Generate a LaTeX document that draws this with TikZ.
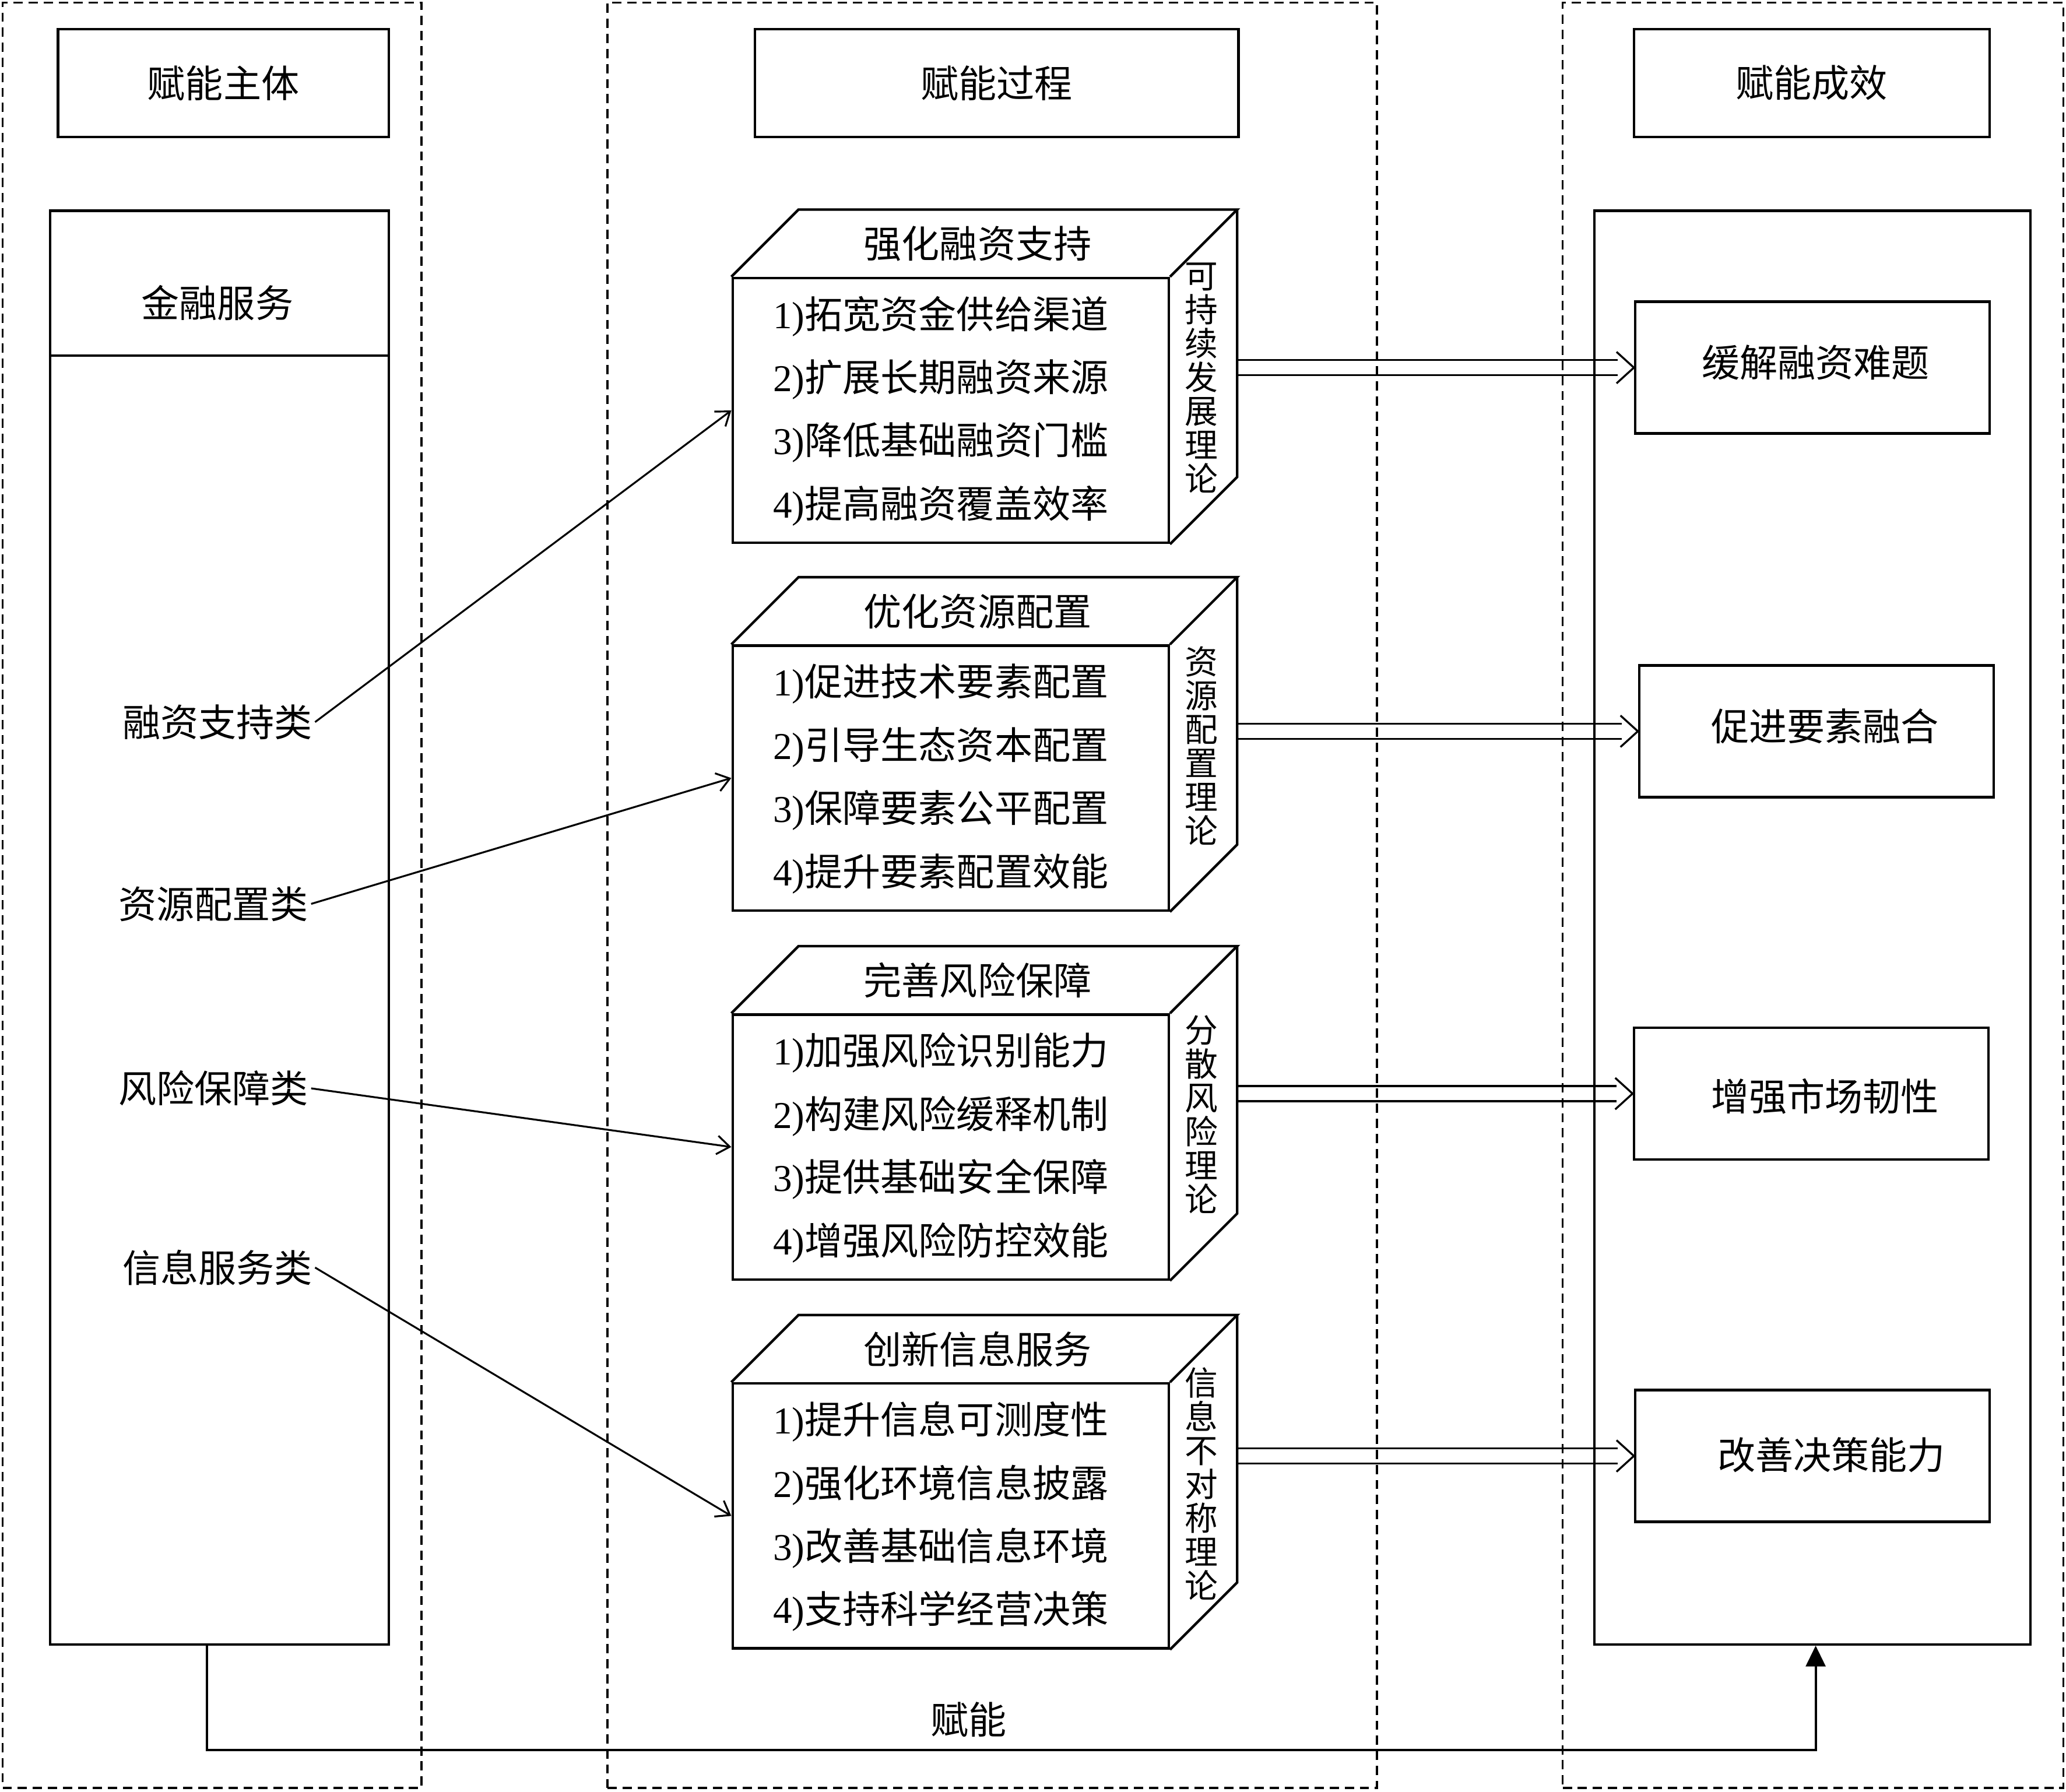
\documentclass[tikz,border=0pt]{standalone}
\usepackage{fontspec}
\setmainfont{Liberation Serif}
\newfontfamily\cjk{Noto Sans CJK SC}
\usetikzlibrary{fit,arrows.meta}
\newcommand\itm[2]{{\rmfamily #1)}#2}
\tikzset{
  col/.style={draw, line width=0.9pt, dash pattern=on 4pt off 2.5pt, inner sep=0pt},
  box/.style={draw, line width=1.1pt, inner sep=0pt},
  edge/.style={line width=1.1pt, line join=miter},
  txt/.style={font=\cjk\fontsize{16.4}{19}\selectfont, inner sep=1pt},
  side/.style={font=\cjk\fontsize{14.3}{14.6}\selectfont, align=center, inner sep=0pt},
  conn/.style={line width=0.8pt, -{Straight Barb[length=5.5pt,width=8pt]}},
  dl/.style={line width=0.85pt},
  base/.style={line width=1pt, -{Triangle[length=9pt,width=8.5pt]}}
}
% double arrow from coordinate #1 to node anchor #2 (horizontal)
\newcommand\dblarrow[2]{%
  \draw[dl] ([yshift=3.3pt]#1) -- ([xshift=-7pt,yshift=3.3pt]#2);
  \draw[dl] ([yshift=-3.3pt]#1) -- ([xshift=-7pt,yshift=-3.3pt]#2);
  \draw[dl, line join=miter] ([xshift=-7.5pt,yshift=6.8pt]#2) -- (#2) -- ([xshift=-7.5pt,yshift=-6.8pt]#2);
}
\newcommand\mkcube[8]{%
  \node[box, fit={(556,#2) (887,#2+201)}] (#1) {};
  \draw[edge] (#1.north west) -- ([shift={(51,-51)}]#1.north west) -- ([shift={(51,-51)}]#1.north east) -- (#1.north east);
  \draw[edge] ([shift={(51,-51)}]#1.north east) -- ([shift={(51,-51)}]#1.south east) -- (#1.south east);
  \coordinate (#1b) at ([shift={(51,-51)}]#1.north east);
  \node[txt] (#1t) at (742,#2-26) {#3};
  \node[side] (#1s) at (912,#2+76) {#4};
  \node[txt] (#1a) at (714,#2+29) {#5};
  \node[txt] (#1c) at (714,#2+77) {#6};
  \node[txt] (#1d) at (714,#2+125) {#7};
  \node[txt] (#1e) at (714,#2+173) {#8};
}
\begin{document}
\begin{tikzpicture}[x=0.02cm, y=-0.02cm]
\useasboundingbox (0,0) rectangle (1568,1360);
% columns
\node[col, fit={(2,2) (320,1357)}] (col1) {};
\node[col, fit={(461,2) (1045,1357)}] (col2) {};
\node[col, fit={(1186,2) (1566,1357)}] (col3) {};
% headers
\node[box, fit={(44,22) (295,104)}] (h1) {};
\node[txt] at (h1) {赋能主体};
\node[box, fit={(573,22) (940,104)}] (h2) {};
\node[txt] at (h2) {赋能过程};
\node[box, fit={(1240,22) (1510,104)}] (h3) {};
\node[txt] at (h3) {赋能成效};
% left big box
\node[box, fit={(38,160) (295,1248)}] (lb) {};
\coordinate (lbsep) at (38,270);
\draw[edge] (lbsep) -- (lbsep -| lb.east);
\node[txt] (fin) at (165,230) {金融服务};
\node[txt] (s1) at (165,548) {融资支持类};
\node[txt] (s2) at (162,686) {资源配置类};
\node[txt] (s3) at (162,826) {风险保障类};
\node[txt] (s4) at (165,962) {信息服务类};
% right big box
\node[box, fit={(1210,160) (1541,1248)}] (rb) {};
\node[box, fit={(1241,229) (1510,329)}] (r1) {};
\node[txt] at (1378,275) {缓解融资难题};
\node[box, fit={(1244,505) (1513,605)}] (r2) {};
\node[txt] at (1385,551) {促进要素融合};
\node[box, fit={(1240,780) (1509,880)}] (r3) {};
\node[txt] at (1385,832) {增强市场韧性};
\node[box, fit={(1241,1055) (1510,1155)}] (r4) {};
\node[txt] at (1390,1104) {改善决策能力};
% cubes
\mkcube{p1}{211}{强化融资支持}{可\\持\\续\\发\\展\\理\\论}{\itm{1}{拓宽资金供给渠道}}{\itm{2}{扩展长期融资来源}}{\itm{3}{降低基础融资门槛}}{\itm{4}{提高融资覆盖效率}}
\mkcube{p2}{490}{优化资源配置}{资\\源\\配\\置\\理\\论}{\itm{1}{促进技术要素配置}}{\itm{2}{引导生态资本配置}}{\itm{3}{保障要素公平配置}}{\itm{4}{提升要素配置效能}}
\mkcube{p3}{770}{完善风险保障}{分\\散\\风\\险\\理\\论}{\itm{1}{加强风险识别能力}}{\itm{2}{构建风险缓释机制}}{\itm{3}{提供基础安全保障}}{\itm{4}{增强风险防控效能}}
\mkcube{p4}{1050}{创新信息服务}{信\\息\\不\\对\\称\\理\\论}{\itm{1}{提升信息可测度性}}{\itm{2}{强化环境信息披露}}{\itm{3}{改善基础信息环境}}{\itm{4}{支持科学经营决策}}
% thin arrows
\draw[conn] (s1.east) -- (p1.west);
\draw[conn] (s2.east) -- (p2.west);
\draw[conn] (s3.east) -- (p3.west);
\draw[conn] (s4.east) -- (p4.west);
% double arrows
\coordinate (d1) at (p1b |- r1.west);
\coordinate (d2) at (p2b |- r2.west);
\coordinate (d3) at (p3b |- r3.west);
\coordinate (d4) at (p4b |- r4.west);
\dblarrow{d1}{r1.west}
\dblarrow{d2}{r2.west}
\dblarrow{d3}{r3.west}
\dblarrow{d4}{r4.west}
% bottom connector
\coordinate (bl) at (157,1328);
\coordinate (br) at (1378,1328);
\draw[base] (lb.south -| bl) -- (bl) -- (br) -- (rb.south -| br);
\node[txt] (fn) at (735,1305) {赋能};
\end{tikzpicture}
\end{document}
